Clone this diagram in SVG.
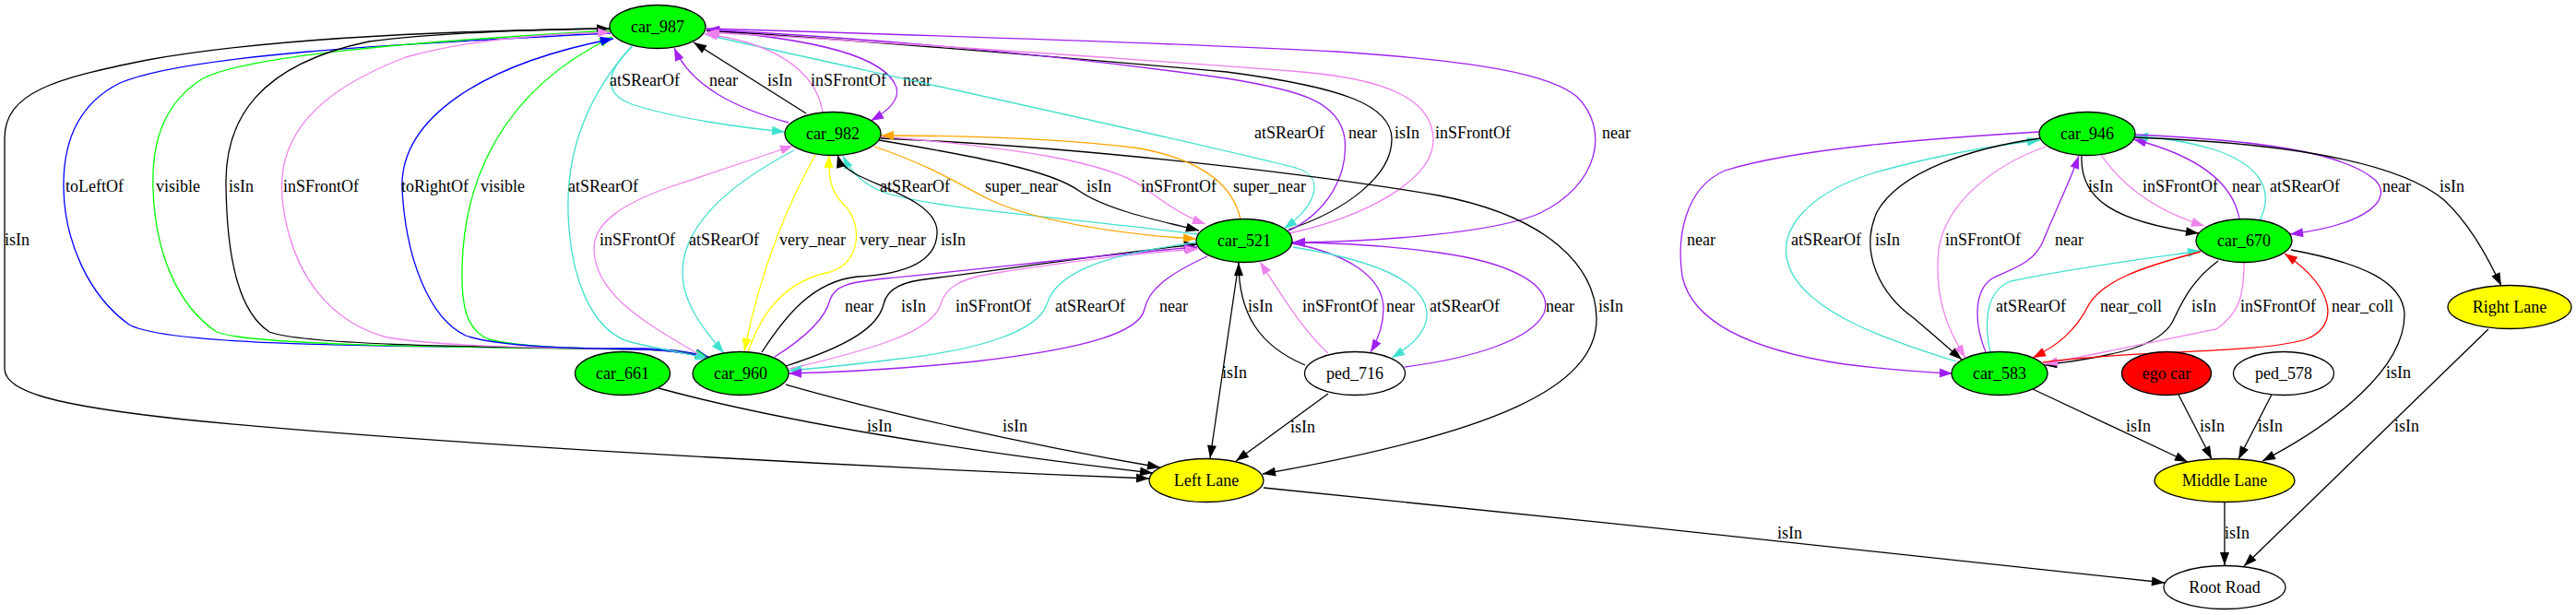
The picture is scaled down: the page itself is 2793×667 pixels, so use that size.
<svg xmlns="http://www.w3.org/2000/svg" width="2793" height="667" viewBox="0 0 2793 667">
<defs>
<style>
text{font-family:"Liberation Serif","Times New Roman",serif;font-size:18px;fill:#000}
.nl{text-anchor:middle}
#edges path{fill:none;stroke-width:1.3}
.k{stroke:#000;marker-end:url(#m-k)}
.p{stroke:#a020f0;marker-end:url(#m-p)}
.t{stroke:#40e0d0;marker-end:url(#m-t)}
.v{stroke:#ee82ee;marker-end:url(#m-v)}
.b{stroke:#0000ff;marker-end:url(#m-b)}
.g{stroke:#00ff00;marker-end:url(#m-g)}
.y{stroke:#ffff00;marker-end:url(#m-y)}
.o{stroke:#ffa500;marker-end:url(#m-o)}
.r{stroke:#ff0000;marker-end:url(#m-r)}
.node ellipse{stroke:#000;stroke-width:1.3}
.car{fill:#00ff00}.lane{fill:#ffff00}.ego{fill:#ff0000}.wht{fill:#fff}
</style>
<marker id="m-k" markerUnits="userSpaceOnUse" markerWidth="16" markerHeight="12" refX="14" refY="5" orient="auto" overflow="visible"><path d="M0,0 L14,5 L0,10 Z" fill="#000"/></marker>
<marker id="m-p" markerUnits="userSpaceOnUse" markerWidth="16" markerHeight="12" refX="14" refY="5" orient="auto" overflow="visible"><path d="M0,0 L14,5 L0,10 Z" fill="#a020f0"/></marker>
<marker id="m-t" markerUnits="userSpaceOnUse" markerWidth="16" markerHeight="12" refX="14" refY="5" orient="auto" overflow="visible"><path d="M0,0 L14,5 L0,10 Z" fill="#40e0d0"/></marker>
<marker id="m-v" markerUnits="userSpaceOnUse" markerWidth="16" markerHeight="12" refX="14" refY="5" orient="auto" overflow="visible"><path d="M0,0 L14,5 L0,10 Z" fill="#ee82ee"/></marker>
<marker id="m-b" markerUnits="userSpaceOnUse" markerWidth="16" markerHeight="12" refX="14" refY="5" orient="auto" overflow="visible"><path d="M0,0 L14,5 L0,10 Z" fill="#0000ff"/></marker>
<marker id="m-g" markerUnits="userSpaceOnUse" markerWidth="16" markerHeight="12" refX="14" refY="5" orient="auto" overflow="visible"><path d="M0,0 L14,5 L0,10 Z" fill="#00ff00"/></marker>
<marker id="m-y" markerUnits="userSpaceOnUse" markerWidth="16" markerHeight="12" refX="14" refY="5" orient="auto" overflow="visible"><path d="M0,0 L14,5 L0,10 Z" fill="#ffff00"/></marker>
<marker id="m-o" markerUnits="userSpaceOnUse" markerWidth="16" markerHeight="12" refX="14" refY="5" orient="auto" overflow="visible"><path d="M0,0 L14,5 L0,10 Z" fill="#ffa500"/></marker>
<marker id="m-r" markerUnits="userSpaceOnUse" markerWidth="16" markerHeight="12" refX="14" refY="5" orient="auto" overflow="visible"><path d="M0,0 L14,5 L0,10 Z" fill="#ff0000"/></marker>
</defs>
<rect width="2793" height="667" fill="#fff"/>
<g id="edges">
<path class="k" d="M 662 31 C 500 33, 300 40, 160 65 C 60 85, 5 100, 5 150 L 5 400 C 5 425, 60 440, 200 455 C 450 480, 900 505, 1246 519"/>
<text x="5" y="266">isIn</text>
<path class="b" d="M 662 36 C 420 48, 200 60, 130 90 C 80 115, 68 160, 69 205 C 70 260, 95 320, 140 352 C 180 375, 400 376, 700 378 C 730 379, 750 382, 768 387"/>
<text x="71" y="208">toLeftOf</text>
<path class="g" d="M 663 33 C 450 45, 270 60, 220 85 C 180 110, 164 150, 166 205 C 168 270, 190 330, 235 360 C 270 374, 450 376, 700 379 C 730 380, 750 383, 768 388"/>
<text x="169" y="208">visible</text>
<path class="g" d="M 768 388 C 740 382, 720 379, 700 379 C 620 378, 560 376, 530 368 C 505 358, 500 330, 501 290 C 503 200, 540 100, 664 40"/>
<text x="521" y="208">visible</text>
<path class="k" d="M 768 388 C 750 383, 730 380, 700 379 C 500 376, 330 374, 292 360 C 262 340, 246 290, 245 200 C 244 130, 280 70, 400 45 C 480 35, 580 32, 661 31"/>
<text x="248" y="208">isIn</text>
<path class="v" d="M 768 388 C 740 382, 720 379, 700 379 C 580 377, 480 376, 420 366 C 360 350, 315 300, 306 215 C 300 150, 340 100, 440 62 C 500 45, 580 37, 662 35"/>
<text x="307" y="208">inSFrontOf</text>
<path class="b" d="M 768 388 C 740 382, 720 379, 700 379 C 620 378, 540 376, 505 364 C 465 345, 440 280, 436 205 C 433 130, 520 70, 665 42"/>
<text x="435" y="208">toRightOf</text>
<path class="t" d="M 685 50 C 640 100, 614 160, 616 230 C 618 300, 640 355, 680 370 C 710 378, 740 382, 768 389"/>
<text x="616" y="208">atSRearOf</text>
<path class="t" d="M 686 50 C 660 75, 650 100, 685 113 C 730 128, 800 138, 851 143"/>
<text x="661" y="93">atSRearOf</text>
<path class="p" d="M 855 133 C 800 118, 750 95, 731 52"/>
<text x="769" y="93">near</text>
<path class="k" d="M 874 123 L 752 46"/>
<text x="832" y="93">isIn</text>
<path class="p" d="M 766 33 C 880 42, 960 60, 972 95 C 976 110, 960 122, 944 131"/>
<text x="979" y="93">near</text>
<path class="t" d="M 766 38 C 1000 90, 1300 155, 1405 182 C 1440 192, 1425 225, 1392 248"/>
<text x="1360" y="150">atSRearOf</text>
<path class="k" d="M 1397 249 C 1460 228, 1510 190, 1509 150 C 1508 115, 1460 95, 1330 78 C 1150 62, 950 45, 766 33"/>
<text x="1512" y="150">isIn</text>
<path class="p" d="M 1396 251 C 1440 230, 1462 190, 1458 150 C 1452 110, 1410 98, 1330 85 C 1150 60, 950 42, 766 32"/>
<text x="1462" y="150">near</text>
<path class="v" d="M 1398 253 C 1480 235, 1556 195, 1554 150 C 1552 110, 1510 85, 1400 77 C 1200 62, 950 45, 766 35"/>
<text x="1556" y="150">inSFrontOf</text>
<path class="v" d="M 892 122 C 885 75, 835 45, 764 37"/>
<text x="879" y="93">inSFrontOf</text>
<path class="p" d="M 766 31 C 1000 38, 1300 48, 1450 56 C 1600 66, 1680 80, 1710 105 C 1745 140, 1735 200, 1668 232 C 1620 252, 1500 262, 1401 263"/>
<text x="1737" y="150">near</text>
<path class="k" d="M 955 150 C 1150 158, 1400 185, 1560 212 C 1680 235, 1730 290, 1731 345 C 1732 420, 1620 470, 1369 514"/>
<text x="1733" y="338">isIn</text>
<path class="t" d="M 1298 254 C 1150 235, 990 225, 950 205 C 930 195, 920 182, 914 169"/>
<text x="954" y="208">atSRearOf</text>
<path class="o" d="M 948 159 C 1010 180, 1040 200, 1070 215 C 1120 240, 1220 255, 1297 259"/>
<text x="1068" y="208">super_near</text>
<path class="k" d="M 953 152 C 1060 170, 1140 185, 1170 207 C 1200 228, 1260 240, 1300 250"/>
<text x="1178" y="208">isIn</text>
<path class="v" d="M 954 148 C 1100 160, 1200 175, 1240 203 C 1262 220, 1285 235, 1307 243"/>
<text x="1237" y="208">inSFrontOf</text>
<path class="o" d="M 1345 238 C 1338 205, 1310 175, 1236 161 C 1150 150, 1050 147, 955 147"/>
<text x="1337" y="208">super_near</text>
<path class="t" d="M 861 163 C 790 200, 740 245, 740 295 C 740 330, 765 360, 785 383"/>
<text x="747" y="266">atSRearOf</text>
<path class="y" d="M 884 168 C 855 220, 825 290, 807 381"/>
<text x="845" y="266">very_near</text>
<path class="y" d="M 811 382 C 825 340, 850 305, 900 295 C 935 285, 935 240, 915 222 C 900 208, 898 190, 899 168"/>
<text x="932" y="266">very_near</text>
<path class="k" d="M 826 382 C 850 345, 880 305, 930 300 C 990 297, 1017 280, 1016 250 C 1014 220, 960 205, 930 190 C 915 182, 910 175, 908 168"/>
<text x="1020" y="266">isIn</text>
<path class="v" d="M 757 384 C 700 350, 645 320, 644 270 C 643 240, 680 220, 720 205 C 780 185, 830 168, 860 158"/>
<text x="650" y="266">inSFrontOf</text>
<path class="k" d="M 852 397 C 920 375, 952 355, 958 330 C 962 312, 980 305, 1010 302 C 1110 290, 1200 275, 1298 265"/>
<text x="977" y="338">isIn</text>
<path class="p" d="M 840 387 C 875 365, 895 345, 900 325 C 905 310, 920 306, 960 302 C 1100 288, 1200 276, 1298 268"/>
<text x="916" y="338">near</text>
<path class="v" d="M 856 400 C 950 378, 1010 360, 1020 330 C 1025 312, 1040 302, 1080 296 C 1150 285, 1230 275, 1299 270"/>
<text x="1036" y="338">inSFrontOf</text>
<path class="t" d="M 1298 263 C 1200 275, 1145 295, 1135 330 C 1125 360, 1060 380, 968 390 C 920 396, 880 400, 855 402"/>
<text x="1144" y="338">atSRearOf</text>
<path class="p" d="M 1309 278 C 1265 298, 1245 315, 1241 335 C 1236 360, 1180 378, 1057 392 C 980 400, 900 404, 855 405"/>
<text x="1257" y="338">near</text>
<path class="k" d="M 1343 285 L 1312 497"/>
<text x="1325" y="410">isIn</text>
<path class="k" d="M 1415 396 C 1365 375, 1343 340, 1343 285"/>
<text x="1353" y="338">isIn</text>
<path class="v" d="M 1440 383 C 1410 355, 1390 320, 1366 284"/>
<text x="1412" y="338">inSFrontOf</text>
<path class="p" d="M 1401 264 C 1460 275, 1500 300, 1500 335 C 1500 355, 1493 370, 1486 382"/>
<text x="1503" y="338">near</text>
<path class="t" d="M 1402 268 C 1490 282, 1545 305, 1547 340 C 1548 360, 1530 375, 1509 388"/>
<text x="1550" y="338">atSRearOf</text>
<path class="p" d="M 1523 398 C 1600 388, 1660 368, 1674 340 C 1685 310, 1640 285, 1560 274 C 1500 266, 1450 263, 1401 263"/>
<text x="1676" y="338">near</text>
<path class="k" d="M 1440 427 L 1340 500"/>
<text x="1399" y="469">isIn</text>
<path class="k" d="M 714 421 C 850 458, 1050 490, 1250 513"/>
<text x="940" y="468">isIn</text>
<path class="k" d="M 852 417 C 950 445, 1100 480, 1258 507"/>
<text x="1087" y="468">isIn</text>
<path class="k" d="M 1370 529 C 1700 562, 2000 594, 2347 632"/>
<text x="1927" y="584">isIn</text>
<path class="k" d="M 2257 169 C 2255 215, 2290 240, 2384 253"/>
<text x="2264" y="208">isIn</text>
<path class="v" d="M 2278 168 C 2300 200, 2335 228, 2390 245"/>
<text x="2323" y="208">inSFrontOf</text>
<path class="p" d="M 2428 237 C 2422 205, 2395 172, 2313 151"/>
<text x="2420" y="208">near</text>
<path class="t" d="M 2450 239 C 2465 210, 2455 180, 2400 162 C 2370 153, 2340 149, 2315 148"/>
<text x="2461" y="208">atSRearOf</text>
<path class="p" d="M 2314 146 C 2450 152, 2540 165, 2575 195 C 2595 215, 2570 243, 2483 254"/>
<text x="2583" y="208">near</text>
<path class="k" d="M 2314 149 C 2480 155, 2600 175, 2650 217 C 2680 245, 2700 285, 2712 310"/>
<text x="2645" y="208">isIn</text>
<path class="p" d="M 2211 143 C 2100 150, 1950 160, 1870 185 C 1825 205, 1818 260, 1824 300 C 1835 350, 1900 380, 2000 395 C 2050 401, 2090 404, 2117 405"/>
<text x="1829" y="266">near</text>
<path class="t" d="M 2121 392 C 2050 370, 1960 340, 1940 290 C 1925 250, 1960 210, 2030 188 C 2100 168, 2160 158, 2212 152"/>
<text x="1942" y="266">atSRearOf</text>
<path class="k" d="M 2212 150 C 2140 160, 2060 185, 2035 230 C 2015 275, 2040 320, 2075 345 C 2095 362, 2110 375, 2127 390"/>
<text x="2033" y="266">isIn</text>
<path class="v" d="M 2218 159 C 2160 180, 2110 220, 2102 270 C 2097 320, 2110 355, 2131 388"/>
<text x="2109" y="266">inSFrontOf</text>
<path class="p" d="M 2153 382 C 2140 350, 2140 315, 2160 302 C 2185 290, 2205 285, 2215 262 C 2230 225, 2245 195, 2254 169"/>
<text x="2228" y="266">near</text>
<path class="t" d="M 2158 382 C 2150 345, 2155 315, 2180 305 C 2250 290, 2330 280, 2386 272"/>
<text x="2164" y="338">atSRearOf</text>
<path class="r" d="M 2386 273 C 2320 290, 2280 305, 2265 330 C 2250 360, 2230 375, 2204 388"/>
<text x="2277" y="338">near_coll</text>
<path class="k" d="M 2405 283 C 2375 305, 2365 330, 2355 350 C 2340 375, 2300 385, 2216 396"/>
<text x="2376" y="338">isIn</text>
<path class="v" d="M 2433 285 C 2433 320, 2428 340, 2403 357 L 2217 395"/>
<text x="2429" y="338">inSFrontOf</text>
<path class="r" d="M 2215 393 C 2300 380, 2450 384, 2500 368 C 2535 355, 2535 315, 2477 275"/>
<text x="2528" y="338">near_coll</text>
<path class="k" d="M 2484 271 C 2560 285, 2605 305, 2607 340 C 2608 400, 2530 460, 2453 500"/>
<text x="2587" y="410">isIn</text>
<path class="k" d="M 2204 422 L 2372 501"/>
<text x="2305" y="468">isIn</text>
<path class="k" d="M 2362 428 L 2398 498"/>
<text x="2385" y="468">isIn</text>
<path class="k" d="M 2463 428 L 2427 498"/>
<text x="2448" y="468">isIn</text>
<path class="k" d="M 2412 545 L 2412 613"/>
<text x="2412" y="584">isIn</text>
<path class="k" d="M 2698 357 L 2433 614"/>
<text x="2596" y="468">isIn</text>
</g>
<g id="car_987" class="node"><ellipse class="car" cx="713" cy="29" rx="52" ry="23.5"/><text class="nl" x="713" y="35">car_987</text></g>
<g id="car_982" class="node"><ellipse class="car" cx="903" cy="145" rx="52" ry="23.5"/><text class="nl" x="903" y="151">car_982</text></g>
<g id="car_521" class="node"><ellipse class="car" cx="1349" cy="261" rx="52" ry="23.5"/><text class="nl" x="1349" y="267">car_521</text></g>
<g id="car_661" class="node"><ellipse class="car" cx="675" cy="405" rx="51.5" ry="23.5"/><text class="nl" x="675" y="411">car_661</text></g>
<g id="car_960" class="node"><ellipse class="car" cx="803" cy="405" rx="52" ry="23.5"/><text class="nl" x="803" y="411">car_960</text></g>
<g id="ped_716" class="node"><ellipse class="wht" cx="1469" cy="405" rx="54.5" ry="23.5"/><text class="nl" x="1469" y="411">ped_716</text></g>
<g id="left_lane" class="node"><ellipse class="lane" cx="1308" cy="521" rx="62" ry="23.5"/><text class="nl" x="1308" y="527">Left Lane</text></g>
<g id="car_946" class="node"><ellipse class="car" cx="2263" cy="145" rx="52" ry="23.5"/><text class="nl" x="2263" y="151">car_946</text></g>
<g id="car_670" class="node"><ellipse class="car" cx="2433" cy="261" rx="52" ry="23.5"/><text class="nl" x="2433" y="267">car_670</text></g>
<g id="right_lane" class="node"><ellipse class="lane" cx="2721" cy="333" rx="67" ry="23.5"/><text class="nl" x="2721" y="339">Right Lane</text></g>
<g id="car_583" class="node"><ellipse class="car" cx="2168" cy="405" rx="52" ry="23.5"/><text class="nl" x="2168" y="411">car_583</text></g>
<g id="ego_car" class="node"><ellipse class="ego" cx="2349" cy="405" rx="48.5" ry="23.5"/><text class="nl" x="2349" y="411">ego car</text></g>
<g id="ped_578" class="node"><ellipse class="wht" cx="2476" cy="405" rx="54.5" ry="23.5"/><text class="nl" x="2476" y="411">ped_578</text></g>
<g id="middle_lane" class="node"><ellipse class="lane" cx="2412" cy="521" rx="76" ry="23.5"/><text class="nl" x="2412" y="527">Middle Lane</text></g>
<g id="root_road" class="node"><ellipse class="wht" cx="2412" cy="637" rx="66" ry="23.5"/><text class="nl" x="2412" y="643">Root Road</text></g>
</svg>
